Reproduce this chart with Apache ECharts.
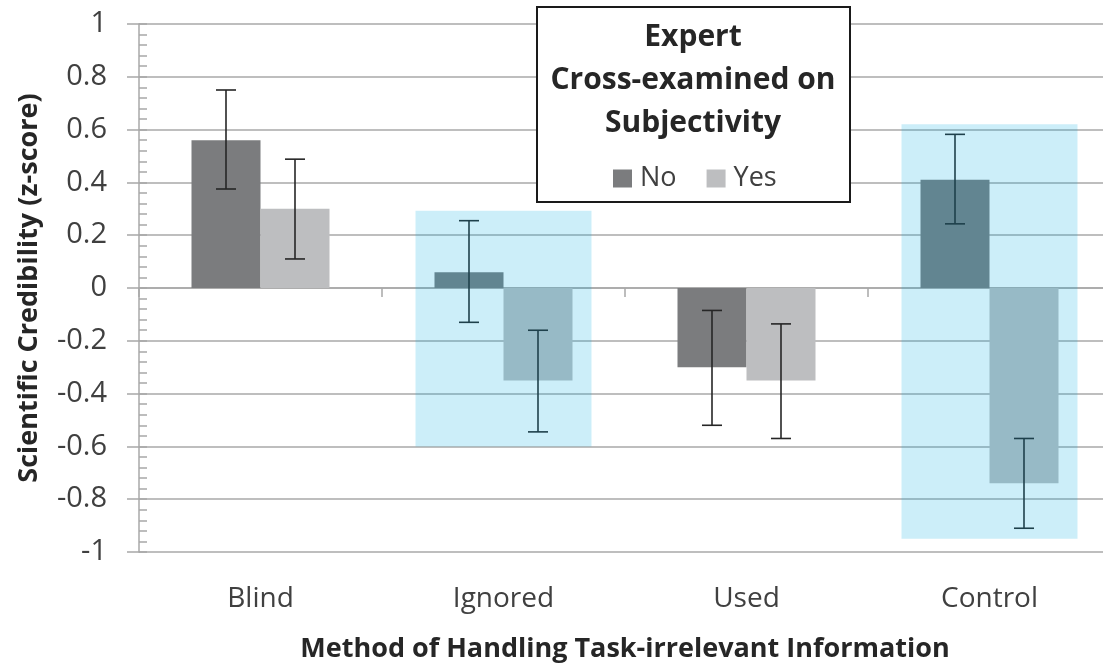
<!DOCTYPE html>
<html>
<head>
<meta charset="utf-8">
<title>Scientific Credibility</title>
<script src="https://cdn.jsdelivr.net/npm/echarts@6/dist/echarts.min.js"></script>
<style>
    html, body { margin: 0; padding: 0; background: #fff; overflow: hidden; }
    /* plot runs a little past the right edge in the original */
    #chart { width: 1111px; height: 668px; }
</style>
</head>
<body>
<div id="chart"></div>
<script>
    // data
    var categories = ['Blind', 'Ignored', 'Used', 'Control'];
    var seriesNames = ['No', 'Yes'];
    var noValues = [0.56, 0.06, -0.30, 0.41];
    var yesValues = [0.30, -0.35, -0.35, -0.74];
    // error bars [low, high]
    var noErrors = [[0.375, 0.75], [-0.13, 0.255], [-0.52, -0.085], [0.243, 0.582]];
    var yesErrors = [[0.11, 0.488], [-0.545, -0.16], [-0.57, -0.136], [-0.91, -0.57]];
    // highlighted groups [category index, top, bottom]
    var highlights = [[1, 0.293, -0.60], [3, 0.62, -0.95]];

    var fontFamily = '"Open Sans", sans-serif';
    var gridColor = '#a8a8a8';
    var barW = 69;
    var boxW = 176;

    var errData = [];
    noErrors.forEach(function (e, i) { errData.push([i, e[0], e[1], -1]); });
    yesErrors.forEach(function (e, i) { errData.push([i, e[0], e[1], 1]); });

    var myChart = echarts.init(document.getElementById('chart'));

    var option = {
        animation: false,
        grid: { left: 139, right: 0, top: 24, bottom: 114 },
        legend: {
            data: seriesNames,
            left: 613,
            top: 165,
            padding: 0,
            icon: 'rect',
            itemWidth: 19,
            itemHeight: 18,
            itemGap: 30,
            textStyle: { fontFamily: fontFamily, fontSize: 27, color: '#404040', padding: [0, 0, 0, 3] }
        },
        graphic: [
            {
                type: 'rect',
                z: 3,
                shape: { x: 537, y: 7, width: 313, height: 195 },
                style: { fill: '#fff', stroke: '#1a1a1a', lineWidth: 2 }
            },
            {
                type: 'text',
                z: 4,
                x: 693,
                y: 80,
                style: {
                    text: 'Expert\nCross-examined on\nSubjectivity',
                    font: 'bold 30px ' + fontFamily,
                    fill: '#262626',
                    align: 'center',
                    verticalAlign: 'middle',
                    lineHeight: 43
                }
            }
        ],
        xAxis: [
            {
                type: 'category',
                data: categories,
                axisLine: { onZero: true, lineStyle: { color: gridColor, width: 1.5 } },
                axisTick: { show: true, length: 9, lineStyle: { color: gridColor, width: 1.5 } },
                axisLabel: { show: false },
                splitLine: { show: false }
            },
            {
                type: 'category',
                data: categories,
                position: 'bottom',
                axisLine: { show: false, onZero: false },
                axisTick: { show: false },
                axisLabel: { margin: 33, fontFamily: fontFamily, fontSize: 28, color: '#404040' },
                name: 'Method of Handling Task-irrelevant Information',
                nameLocation: 'middle',
                nameGap: 84,
                nameTextStyle: { fontFamily: fontFamily, fontSize: 27, fontWeight: 'bold', color: '#262626' }
            }
        ],
        yAxis: [
            {
                type: 'value',
                min: -1,
                max: 1,
                interval: 0.2,
                axisLine: { show: true, lineStyle: { color: gridColor, width: 1.5 } },
                axisTick: { show: true, inside: true, length: 8, lineStyle: { color: gridColor, width: 1.5 } },
                minorTick: { show: true, splitNumber: 5, length: 8, lineStyle: { color: gridColor, width: 1.5 } },
                splitLine: { show: true, lineStyle: { color: gridColor, width: 1.6 } },
                axisLabel: {
                    margin: 32,
                    fontFamily: fontFamily,
                    fontSize: 29,
                    color: '#404040',
                    formatter: function (v) { return String(Math.round(v * 10) / 10); }
                },
                name: 'Scientific Credibility (z-score)',
                nameLocation: 'middle',
                nameGap: 96,
                nameTextStyle: { fontFamily: fontFamily, fontSize: 27, fontWeight: 'bold', color: '#262626' }
            },
            {
                type: 'value',
                min: -1,
                max: 1,
                interval: 0.2,
                position: 'left',
                axisLine: { show: false },
                axisTick: { show: true, length: 12, lineStyle: { color: gridColor, width: 1.5 } },
                axisLabel: { show: false },
                splitLine: { show: false }
            }
        ],
        series: [
            {
                name: 'No',
                type: 'bar',
                data: noValues,
                barWidth: barW,
                barGap: 0,
                itemStyle: { color: '#7b7c7e' }
            },
            {
                name: 'Yes',
                type: 'bar',
                data: yesValues,
                barWidth: barW,
                barGap: 0,
                itemStyle: { color: '#bdbec0' }
            },
            {
                type: 'custom',
                name: 'errors',
                z: 5,
                data: errData,
                renderItem: function (params, api) {
                    var off = api.value(3) * barW / 2;
                    var lo = api.coord([api.value(0), api.value(1)]);
                    var hi = api.coord([api.value(0), api.value(2)]);
                    var x = lo[0] + off;
                    var cap = 10;
                    var style = { stroke: '#262626', lineWidth: 1.6 };
                    return {
                        type: 'group',
                        children: [
                            { type: 'line', shape: { x1: x, y1: lo[1], x2: x, y2: hi[1] }, style: style },
                            { type: 'line', shape: { x1: x - cap, y1: lo[1], x2: x + cap, y2: lo[1] }, style: style },
                            { type: 'line', shape: { x1: x - cap, y1: hi[1], x2: x + cap, y2: hi[1] }, style: style }
                        ]
                    };
                }
            },
            {
                type: 'custom',
                name: 'highlight',
                z: 10,
                silent: true,
                data: highlights,
                renderItem: function (params, api) {
                    var top = api.coord([api.value(0), api.value(1)]);
                    var bottom = api.coord([api.value(0), api.value(2)]);
                    return {
                        type: 'rect',
                        shape: { x: top[0] - boxW / 2, y: top[1], width: boxW, height: bottom[1] - top[1] },
                        style: { fill: 'rgba(0,172,226,0.2)' }
                    };
                }
            }
        ]
    };

    myChart.setOption(option);
</script>
</body>
</html>
